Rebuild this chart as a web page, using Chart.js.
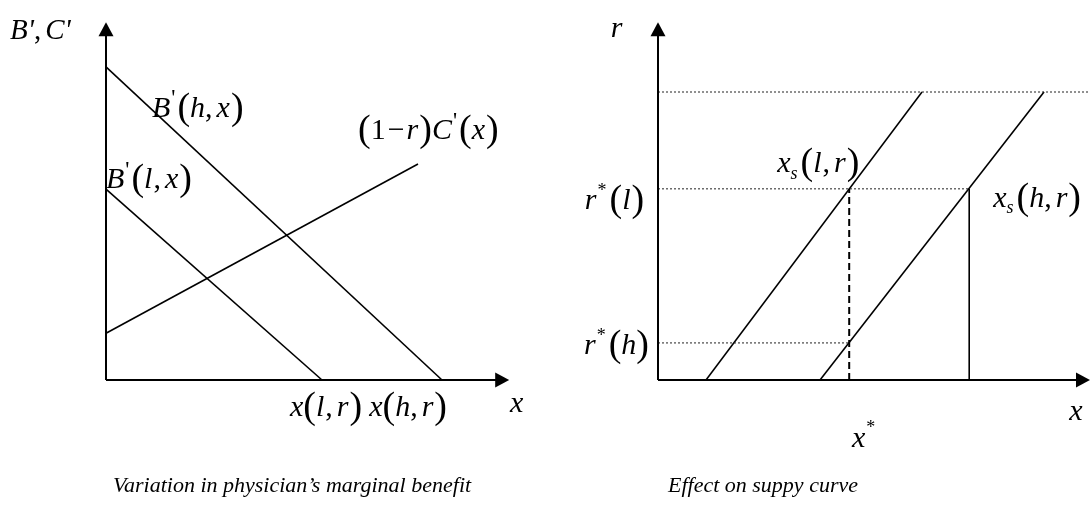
<!DOCTYPE html>
<html><head><meta charset="utf-8">
<script src="https://cdn.jsdelivr.net/npm/chart.js@4/dist/chart.umd.min.js"></script>
<style>
html,body{margin:0;padding:0;background:#fff;width:1091px;height:517px;overflow:hidden}
canvas{position:absolute;top:0}
#c1{left:0}
#c2{left:545px}
</style></head><body>
<canvas id="c1" width="545" height="517"></canvas>
<canvas id="c2" width="546" height="517"></canvas>
<script>
// ---- Left panel: marginal benefit / cost lines ----
const mbHighX = [0, 8.4];
const mbHighY = [8.7, 0];
const mbLowX = [0, 5.4];
const mbLowY = [5.3, 0];
const mcX = [0, 7.8];
const mcY = [1.3, 6.0];
// ---- Right panel: supply curves ----
const supplyLowX = [1.2, 6.6];
const supplyHighX = [4.05, 9.65];
const supplyY = [0, 8.0];
const rLevels = [8.0, 5.31, 1.03];      // top guide, r*(l), r*(h)
const rLevelEnds = [10.8, 7.78, 4.78];  // where each guide stops
const xStar = 4.78;
const xHighAtRl = 7.78;
// ---- Text ----
const captions = ["Variation in physician\u2019s marginal benefit", "Effect on suppy curve"];

const FONT = '"Liberation Serif","Times New Roman",serif';

function pts(xs, ys){ return xs.map((x,i)=>({x, y: ys[i]})); }

function drawMath(ctx, x, y, segs, base){
  let cx = x;
  for (const [t,k] of segs){
    let font, dy = 0;
    if (k==='i') font = `italic ${base}px ${FONT}`;
    else if (k==='u') font = `${base}px ${FONT}`;
    else if (k==='p') { font = `${Math.round(base*1.25)}px ${FONT}`; dy = base*0.07; }
    else if (k==='sup') { font = `${Math.round(base*0.6)}px ${FONT}`; dy = -base*0.45; }
    else if (k==='pr') { font = `${Math.round(base*0.75)}px ${FONT}`; dy = -base*0.38; }
    else if (k==='sub') { font = `italic ${Math.round(base*0.6)}px ${FONT}`; dy = base*0.22; }
    else if (k==='g') { cx += Number(t); continue; }
    ctx.font = font;
    ctx.fillText(t, cx, y+dy);
    cx += ctx.measureText(t).width;
  }
}

function axesPlugin(xMax, yMax, labels){
  return {
    id: 'axesArrows',
    afterDatasetsDraw(chart){
      const ctx = chart.ctx, xs = chart.scales.x, ys = chart.scales.y;
      const ox = xs.getPixelForValue(0), oy = ys.getPixelForValue(0);
      const tx = xs.getPixelForValue(xMax), ty = ys.getPixelForValue(yMax);
      ctx.save();
      ctx.strokeStyle = '#000'; ctx.fillStyle = '#000'; ctx.lineWidth = 2;
      ctx.beginPath(); ctx.moveTo(ox, oy); ctx.lineTo(ox, ty+12); ctx.stroke();
      ctx.beginPath(); ctx.moveTo(ox, oy); ctx.lineTo(tx-12, oy); ctx.stroke();
      ctx.beginPath(); ctx.moveTo(ox, ty); ctx.lineTo(ox-7.5, ty+14); ctx.lineTo(ox+7.5, ty+14); ctx.closePath(); ctx.fill();
      ctx.beginPath(); ctx.moveTo(tx, oy); ctx.lineTo(tx-14, oy-7.5); ctx.lineTo(tx-14, oy+7.5); ctx.closePath(); ctx.fill();
      ctx.textBaseline = 'alphabetic';
      for (const L of labels){
        drawMath(ctx, xs.getPixelForValue(L.x), ys.getPixelForValue(L.y), L.segs, L.size || 30);
      }
      if (chart.$caption){
        ctx.font = `italic 22px ${FONT}`;
        ctx.fillText(chart.$caption.text, chart.$caption.x, chart.$caption.y);
      }
      ctx.restore();
    }
  };
}

function lineDs(data, opts){
  return Object.assign({data, showLine:true, borderColor:'#000', borderWidth:1.6,
    pointRadius:0, fill:false, clip:false, tension:0}, opts||{});
}

function baseOptions(pad){
  return {
    responsive:false, animation:false, events:[],
    layout:{padding:pad},
    plugins:{legend:{display:false}, tooltip:{enabled:false}},
    scales:{
      x:{type:'linear', min:0, max:10, display:false},
      y:{type:'linear', min:0, max:10, display:false}
    }
  };
}

// Left chart
const leftLabels = [
  {x:-2.4, y:9.47, segs:[["B'",'i'],[",",'u'],["4",'g'],["C'",'i']], size:29},
  {x:1.15, y:7.31, segs:[["B",'i'],["1",'g'],["'",'pr'],["2",'g'],["(",'p'],["h",'i'],[",",'u'],["4",'g'],["x",'i'],["1",'g'],[")",'p']]},
  {x:0.0, y:5.33, segs:[["B",'i'],["1",'g'],["'",'pr'],["2",'g'],["(",'p'],["l",'i'],["1",'g'],[",",'u'],["4",'g'],["x",'i'],["1",'g'],[")",'p']]},
  {x:6.3, y:6.69, segs:[["(",'p'],["1",'u'],["2",'g'],["\u2212",'u'],["2",'g'],["r",'i'],["1",'g'],[")",'p'],["C",'i'],["1",'g'],["'",'pr'],["2",'g'],["(",'p'],["x",'i'],["1",'g'],[")",'p']]},
  {x:4.6, y:-1.0, segs:[["x",'i'],["(",'p'],["l",'i'],["1",'g'],[",",'u'],["4",'g'],["r",'i'],["1",'g'],[")",'p']]},
  {x:6.58, y:-1.0, segs:[["x",'i'],["(",'p'],["h",'i'],[",",'u'],["4",'g'],["r",'i'],["1",'g'],[")",'p']]},
  {x:10.1, y:-0.89, segs:[["x",'i']]}
];
const c1 = new Chart(document.getElementById('c1'), {
  type:'scatter',
  data:{datasets:[
    lineDs(pts(mbHighX, mbHighY)),
    lineDs(pts(mbLowX, mbLowY)),
    lineDs(pts(mcX, mcY))
  ]},
  options: baseOptions({left:106, top:20, right:39, bottom:137}),
  plugins:[axesPlugin(10.08, 9.94, leftLabels)]
});
c1.$caption = {text: captions[0], x:113, y:492};
c1.draw();

// Right chart
const rightLabels = [
  {x:-1.18, y:9.53, segs:[["r",'i']]},
  {x:-1.83, y:4.75, segs:[["r",'i'],["1",'g'],["*",'sup'],["3",'g'],["(",'p'],["l",'i'],["1",'g'],[")",'p']]},
  {x:-1.85, y:0.72, segs:[["r",'i'],["1",'g'],["*",'sup'],["3",'g'],["(",'p'],["h",'i'],[")",'p']]},
  {x:2.98, y:5.78, segs:[["x",'i'],["s",'sub'],["3",'g'],["(",'p'],["l",'i'],["1",'g'],[",",'u'],["4",'g'],["r",'i'],["1",'g'],[")",'p']]},
  {x:8.38, y:4.81, segs:[["x",'i'],["s",'sub'],["3",'g'],["(",'p'],["h",'i'],[",",'u'],["4",'g'],["r",'i'],["1",'g'],[")",'p']]},
  {x:4.85, y:-1.86, segs:[["x",'i'],["1",'g'],["*",'sup']]},
  {x:10.28, y:-1.11, segs:[["x",'i']]}
];
const guideDs = rLevels.map((r,i)=>lineDs(pts([0, rLevelEnds[i]],[r, r]), {borderWidth:1, borderDash:[2,2], borderColor:'#222'}));
const c2 = new Chart(document.getElementById('c2'), {
  type:'scatter',
  data:{datasets:[
    ...guideDs,
    lineDs(pts(supplyLowX, supplyY)),
    lineDs(pts(supplyHighX, supplyY)),
    lineDs(pts([xStar, xStar],[0, rLevels[1]]), {borderWidth:2, borderDash:[7,4]}),
    lineDs(pts([xHighAtRl, xHighAtRl],[0, rLevels[1]]), {borderWidth:1.6})
  ]},
  options: baseOptions({left:113, top:20, right:33, bottom:137}),
  plugins:[axesPlugin(10.8, 9.94, rightLabels)]
});
c2.$caption = {text: captions[1], x:668-545, y:492};
c2.draw();
</script>
</body></html>
